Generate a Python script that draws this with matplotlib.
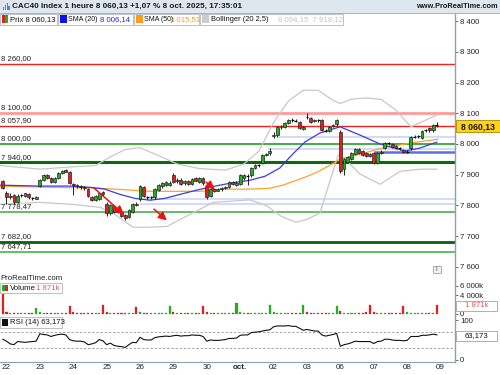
import matplotlib
matplotlib.use('Agg')
import matplotlib.pyplot as plt
from matplotlib.patches import Rectangle

plt.rcParams['font.family'] = ['Liberation Sans', 'DejaVu Sans']

# ---------------- data ----------------
idx = list(range(-1, 117))
opens = [7880,
 7842,7828,7834,7812,7832,7830,7838,7824,7822,
 7864,7882,7899,7889,7876,7889,7905,7916,7910,
 7870,7866,7862,7859,7854,7828,7818,7822,7844,
 7806,7774,7797,7786,7778,7768,7762,7780,7806,
 7820,7860,7828,7826,7826,7850,7862,7868,7866,
 7899,7878,7884,7872,7880,7869,7888,7876,7889,
 7860,7830,7852,7848,7852,7856,7860,7876,7868,
 7870,7890,7896,7898,7922,7931,7938,7964,7970,
 8026,8028,8056,8056,8068,8078,8077,8072,8050,
 8090,8085,8074,8078,8078,8044,8042,8058,8064,
 8040,7920,7942,7952,7968,7984,7977,7970,7966,
 7970,7938,7972,7987,8003,8000,7993,7987,7980,
 7974,7986,8023,8024,8020,8044,8052,8044,8062]
highs = [7884,
 7848,7840,7838,7836,7838,7842,7840,7828,7830,
 7886,7903,7902,7892,7892,7908,7915,7920,7912,
 7874,7870,7866,7862,7856,7832,7834,7842,7848,
 7812,7804,7800,7790,7782,7772,7788,7808,7810,
 7868,7864,7832,7830,7856,7870,7876,7880,7878,
 7904,7890,7888,7884,7884,7890,7892,7892,7894,
 7866,7856,7856,7856,7860,7864,7880,7878,7878,
 7902,7902,7902,7925,7934,7936,7966,7972,7986,
 8040,8060,8062,8072,8082,8084,8082,8076,8060,
 8100,8088,8082,8082,8080,8050,8060,8066,8082,
 8044,7954,7960,7974,7988,7988,7982,7975,7970,
 7975,7974,7980,8008,8008,8004,7996,7990,7984,
 7980,8026,8030,8030,8046,8050,8056,8064,8070]
lows = [7855,
 7806,7822,7806,7808,7826,7828,7822,7818,7820,
 7860,7878,7886,7872,7874,7886,7902,7908,7870,
 7834,7858,7855,7850,7826,7814,7814,7818,7830,
 7766,7770,7774,7774,7762,7752,7758,7776,7798,
 7816,7826,7822,7820,7822,7846,7858,7864,7862,
 7872,7874,7866,7868,7866,7866,7878,7872,7868,
 7822,7826,7844,7846,7848,7852,7856,7866,7864,
 7866,7884,7866,7894,7918,7926,7934,7960,7964,
 8018,8024,8050,8052,8064,8072,8070,8048,8046,
 8082,8068,8070,8072,8042,8038,8040,8054,8060,
 7905,7898,7938,7948,7964,7968,7962,7958,7958,
 7934,7934,7968,7984,7998,7986,7984,7982,7970,
 7970,7982,8018,8020,8016,8040,8040,8040,8056]
closes = [7858,
 7828,7832,7810,7832,7833,7839,7826,7822,7826,
 7882,7899,7889,7876,7889,7905,7912,7910,7873,
 7867,7862,7859,7856,7830,7818,7830,7840,7838,
 7774,7801,7778,7778,7766,7758,7784,7804,7802,
 7863,7830,7826,7827,7853,7866,7872,7875,7872,
 7876,7884,7870,7878,7869,7886,7881,7889,7872,
 7828,7853,7848,7852,7856,7860,7876,7870,7874,
 7898,7899,7894,7922,7931,7932,7964,7968,7976,
 8030,8056,8057,8069,8078,8077,8075,8052,8054,
 8088,8072,8078,8076,8046,8042,8056,8062,8078,
 7912,7950,7957,7971,7984,7972,7965,7962,7962,
 7938,7971,7975,8003,8002,7990,7987,7986,7974,
 7976,8023,8024,8026,8043,8046,8044,8062,8060.13]
volumes = [4300,
 400,250,220,200,180,210,230,260,1350,
 380,260,230,210,200,220,240,280,1770,
 350,240,220,200,210,240,260,300,2000,
 420,280,250,230,220,240,260,300,1500,
 400,260,230,210,200,220,240,280,1700,
 380,250,220,200,190,210,230,270,1770,
 400,260,230,210,200,220,240,300,2400,
 380,260,240,220,210,230,250,300,2000,
 450,280,240,220,210,230,250,300,1850,
 420,260,240,220,210,230,250,300,1700,
 600,250,280,250,230,240,260,320,1850,
 420,270,240,220,210,230,250,300,1770,
 400,280,250,230,220,240,260,300,1871]
rsi = [52,
 47,40,38,46,45,44,45,46,47,
 66,64,63,59,62,64,65,63,51,
 48,47,47,45,38,40,43,51,48,
 38,42,36,34,33,31,38,44,43,
 57,51,50,50,56,58,59,60,59,
 61,62,60,61,61,63,62,62,59,
 47,50,49,49,50,51,54,54,55,
 62,63,63,69,70,71,73,75,76,
 84,86,86,86,87,85,85,80,75,
 77,75,73,73,63,60,62,64,67,
 34,38,40,43,47,46,46,46,46,
 41,46,47,52,52,50,49,49,48,
 49,59,59,59,62,62,63,65,63.17]

# moving averages / bands read at sample positions (candle index, price)
sma20_x = [-1.75, 9.0, 17.1, 22.5, 26.5, 30.6, 34.6, 38.7, 42.7, 46.8, 51.3, 56.2,
           60.2, 65.6, 69.7, 73.7, 76.9, 80.5, 84.5, 89.9, 95.3, 100.7, 107.4, 111.5, 116.0]
sma20_y = [7866, 7863, 7863, 7859, 7853, 7836, 7823, 7817, 7823, 7836, 7850, 7863,
           7872, 7882, 7895, 7922, 7964, 8007, 8036, 8056, 8029, 8000, 7977, 7987, 8006.14]
sma50_x = [-1.75, 11.7, 25.2, 38.7, 52.2, 58.9, 65.6, 71.0, 74.5, 80.5, 83.7, 87.2,
           89.9, 95.3, 101.5, 108.8, 116.3]
sma50_y = [7863, 7859, 7856, 7846, 7846, 7853, 7853, 7856, 7866, 7892, 7908, 7931,
           7951, 7967, 7987, 8003, 8015.51]
bbu_x = [-1.75, 9.0, 17.0, 24.0, 28.0, 32.0, 36.0, 41.0, 46.0, 52.0, 59.0, 64.0,
         68.0, 72.0, 76.0, 80.0, 84.0, 88.0, 90.0, 93.0, 97.0, 101.0, 105.0, 109.0, 116.0]
bbu_y = [7930, 7918, 7925, 7930, 7958, 7982, 7988, 7962, 7935, 7920, 7915, 7935,
         7976, 8070, 8140, 8175, 8175, 8142, 8132, 8146, 8150, 8145, 8110, 8056, 8094.15]
bbl_x = [-1.75, 9.0, 17.1, 25.2, 29.2, 34.1, 38.7, 43.3, 49.5, 55.7, 65.6, 70.0,
         74.0, 78.0, 81.0, 84.5, 87.2, 89.4, 91.3, 95.3, 100.7, 106.1, 111.5, 116.0]
bbl_y = [7804, 7810, 7804, 7794, 7771, 7729, 7729, 7732, 7771, 7810, 7818, 7800,
         7765, 7745, 7755, 7775, 7880, 7964, 7951, 7902, 7869, 7911, 7918, 7918.12]

levels = [8260.00, 8100.00, 8057.90, 8000.00, 7940.00, 7778.47, 7682.00, 7647.71]
level_labels = ['8 260,00', '8 100,00', '8 057,90', '8 000,00', '7 940,00',
                '7 778,47', '7 682,00', '7 647,71']
level_colors = ['#ff2020', '#ff9a9a', '#ee2222', '#22a022', '#0b6b0b', '#3daa3d', '#125a12', '#3daa3d']
level_widths = [1.0, 2.0, 1.0, 1.2, 2.2, 1.1, 2.0, 1.1]

support_lines = [8023, 7984, 7974, 7820, 7804]
support_start = [73, 70.5, 99, 36, 36]
support_colors = ['#c9d6f5', '#c9d6f5', '#5c6fe0', '#c9d6f5', '#c9d6f5']
support_widths = [1.2, 1.2, 1.8, 1.2, 1.2]

arrows = [((23.0, 7863), (32.2, 7765)), ((39.2, 7794), (43.8, 7745)), ((53.2, 7882), (56.7, 7846))]

day_pos = [0, 9, 18, 27, 36, 45, 54, 63, 72, 81, 90, 99, 108, 117]
day_labels = ['22', '23', '24', '25', '26', '29', '30', 'oct.', '02', '03', '06', '07', '08', '09']
price_ticks = [7600, 7700, 7800, 7900, 8000, 8100, 8200, 8300, 8400]

# ---------------- layout ----------------
W, H = 500, 375
fig = plt.figure(figsize=(5, 3.75), dpi=100)
def fx(x): return x / W
def fy(y): return 1 - y / H

def fmt(v):
    return f"{v:,.0f}".replace(',', ' ')

ax = fig.add_axes([0, fy(282), fx(455), (282 - 13) / H])
axv = fig.add_axes([0, fy(316), fx(455), (316 - 282) / H], sharex=ax)
axr = fig.add_axes([0, fy(362), fx(455), (362 - 316) / H], sharex=ax)

axis_col = '#8fa0ad'
for a in (ax, axv, axr):
    for s in ('top', 'left', 'bottom'):
        a.spines[s].set_visible(False)
    a.spines['right'].set_color(axis_col)
    a.spines['right'].set_linewidth(1.0)
    a.yaxis.tick_right()
    a.tick_params(axis='y', direction='out', length=2, width=0.6, color='#555555',
                  labelsize=5.6, pad=1.5, labelcolor='#222222')
    a.tick_params(axis='x', length=0)
    a.set_facecolor('white')
axr.spines['bottom'].set_visible(True)
axr.spines['bottom'].set_color(axis_col)

ax.set_xlim(-1.75, 120.9)
ax.set_ylim(7550.7, 8426.5)

for lv, lab, c, lw in zip(levels, level_labels, level_colors, level_widths):
    ax.axhline(lv, color=c, lw=lw, zorder=1)
    ax.text(-1.55, lv + 6, lab, fontsize=5.6, color='#222222', va='bottom', ha='left', zorder=6)

for lv, st, c, lw in zip(support_lines, support_start, support_colors, support_widths):
    ax.hlines(lv, st, 120.9, color=c, lw=lw, zorder=1)

ax.plot(bbu_x, bbu_y, color='#c8c8c8', lw=0.9, zorder=2)
ax.plot(bbl_x, bbl_y, color='#c8c8c8', lw=0.9, zorder=2)
ax.plot(sma50_x, sma50_y, color='#ffa030', lw=0.9, zorder=3)
ax.plot(sma20_x, sma20_y, color='#3a3ae8', lw=0.9, zorder=3)

bw = 0.75
for i, o, h, l, c in zip(idx, opens, highs, lows, closes):
    ax.vlines(i, l, h, color='#111111', lw=0.65, zorder=4)
    up = c >= o
    lo, hi = min(o, c), max(o, c)
    if hi - lo < 2.5:
        ax.hlines((o + c) / 2, i - bw / 2, i + bw / 2, color='#111111', lw=0.9, zorder=5)
    else:
        ax.add_patch(Rectangle((i - bw / 2, lo), bw, hi - lo,
                               facecolor='#22b022' if up else '#e02020',
                               edgecolor='#222222', lw=0.5, zorder=5))

for (p0, p1) in arrows:
    ax.annotate('', xy=p1, xytext=p0,
                arrowprops=dict(arrowstyle='-|>,head_length=0.5,head_width=0.25',
                                color='#ee1111', lw=1.1), zorder=7)

ax.set_yticks(price_ticks)
ax.set_yticklabels([fmt(t) for t in price_ticks])
ax.tick_params(axis='x', labelbottom=False)
ax.text(-1.55, 7552, 'ProRealTime.com', fontsize=5.6, color='#222222', va='bottom', ha='left')

vcols = ['#22b022' if c >= o else '#e02020' for o, c in zip(opens, closes)]
axv.bar(idx, volumes, width=0.55, color=vcols, edgecolor=vcols, lw=0.2, zorder=3)
axv.set_ylim(-425, 6800)
axv.set_yticks([0, 4000, 6000])
axv.set_yticklabels(['0', '4 000k', '6 000k'])
axv.tick_params(axis='x', labelbottom=False)

axr.plot(idx, rsi, color='#111111', lw=0.8, zorder=3)
axr.axhline(70, color='#999999', lw=0.6, ls=(0, (3, 2)))
axr.axhline(30, color='#999999', lw=0.6, ls=(0, (3, 2)))
axr.set_ylim(-6.4, 111.5)
axr.set_yticks([0, 100])
axr.set_yticklabels(['0', '100'])
axr.set_xticks(day_pos)
axr.set_xticklabels(day_labels)
axr.tick_params(axis='x', labelsize=5.8, pad=1.5, labelcolor='#222222')
for t in axr.get_xticklabels():
    if t.get_text() == 'oct.':
        t.set_fontweight('bold')

# ---------------- header & legends ----------------
def frect(x0, y0, x1, y1, fc, ec='none', lw=0.6, z=5):
    r = Rectangle((fx(x0), fy(y1)), fx(x1) - fx(x0), (y1 - y0) / H,
                  transform=fig.transFigure, facecolor=fc, edgecolor=ec, lw=lw, zorder=z)
    fig.patches.append(r)

def ftext(x, y, s, **kw):
    kw.setdefault('fontsize', 5.6)
    kw.setdefault('color', '#111111')
    kw.setdefault('va', 'center')
    kw.setdefault('ha', 'left')
    fig.text(fx(x), fy(y), s, zorder=10, **kw)

frect(0, 0, 500, 12.5, '#dfe7ee', z=2)
fig.add_artist(plt.Line2D([0, 1], [fy(12.5), fy(12.5)], color='#a7b4bf', lw=0.7,
                          transform=fig.transFigure, zorder=3))
for k, hh in enumerate([3, 5, 7, 4]):
    frect(3 + k * 1.8, 10 - hh, 4.2 + k * 1.8, 10, '#3a8fd8', z=6)
ftext(12, 6.3, 'CAC40 Index 1 heure 8 060,13 +1,07 % 8 oct. 2025, 17:35:01',
      fontsize=5.9, fontweight='bold', color='#1a1a1a')
ftext(498, 6.3, 'www.ProRealTime.com', fontsize=5.3, fontweight='bold',
      color='#1a1a1a', ha='right')

def legend_box(x0, x1, y0, y1):
    frect(x0, y0, x1, y1, '#ffffff', ec='#b9c2c9', lw=0.7, z=5)

ly0, ly1 = 13.5, 24.5
lyc = 19.2
legend_box(0, 57, ly0, ly1)
frect(1.5, 15.5, 4.5, 22.5, '#e02020', z=6)
frect(4.5, 15.5, 7.5, 22.5, '#22b022', z=6)
ftext(9.5, lyc, 'Prix 8 060,13')

legend_box(58, 133, ly0, ly1)
frect(60, 15.5, 67, 22.5, '#1111ee', z=6)
ftext(68.5, lyc, 'SMA (20)', fontsize=5.0)
ftext(100, lyc, '8 006,14', color='#2222ee')

legend_box(134, 199, ly0, ly1)
frect(136, 15.5, 143, 22.5, '#ff9a1a', z=6)
ftext(144, lyc, 'SMA (50)', fontsize=5.0)
ftext(170.5, lyc, '8 015,51', color='#ff9a1a')

legend_box(200, 343, ly0, ly1)
frect(202, 15.5, 209, 22.5, '#cccccc', z=6)
ftext(211, lyc, 'Bollinger (20 2,5)', fontsize=5.4)
ftext(278, lyc, '8 094,15  7 918,12', color='#c4c4c4')

legend_box(0, 62, 283, 293)
frect(1.5, 285, 4.5, 291, '#22b022', z=6)
frect(4.5, 285, 7.5, 291, '#e02020', z=6)
ftext(10, 288.2, 'Volume')
ftext(36, 288.2, '1 871k', color='#e85a5a')

legend_box(0, 62, 317, 327.5)
frect(1.5, 319, 7.5, 325.5, '#111111', z=6)
ftext(10, 322.3, 'RSI (14) 63,173')

frect(433, 265.5, 440.5, 273, '#f2f2f2', ec='#9aa5ae', lw=0.6, z=6)
ftext(436.8, 269.3, 'i', fontsize=5, color='#555555', ha='center')

frect(456, 120.5, 499.5, 132.5, '#ffd21a', ec='#aa8800', lw=0.6, z=6)
ftext(477.8, 126.6, '8 060,13', fontsize=6.2, fontweight='bold', ha='center')
frect(456, 300.5, 497, 311, '#ffffff', ec='#9aa5ae', lw=0.6, z=6)
ftext(476.5, 305.8, '1 871k', color='#e85a5a', ha='center')
frect(456, 330.5, 497, 341, '#ffffff', ec='#9aa5ae', lw=0.6, z=6)
ftext(476.5, 335.8, '63,173', ha='center')

fig.savefig('out.png', dpi=100)
